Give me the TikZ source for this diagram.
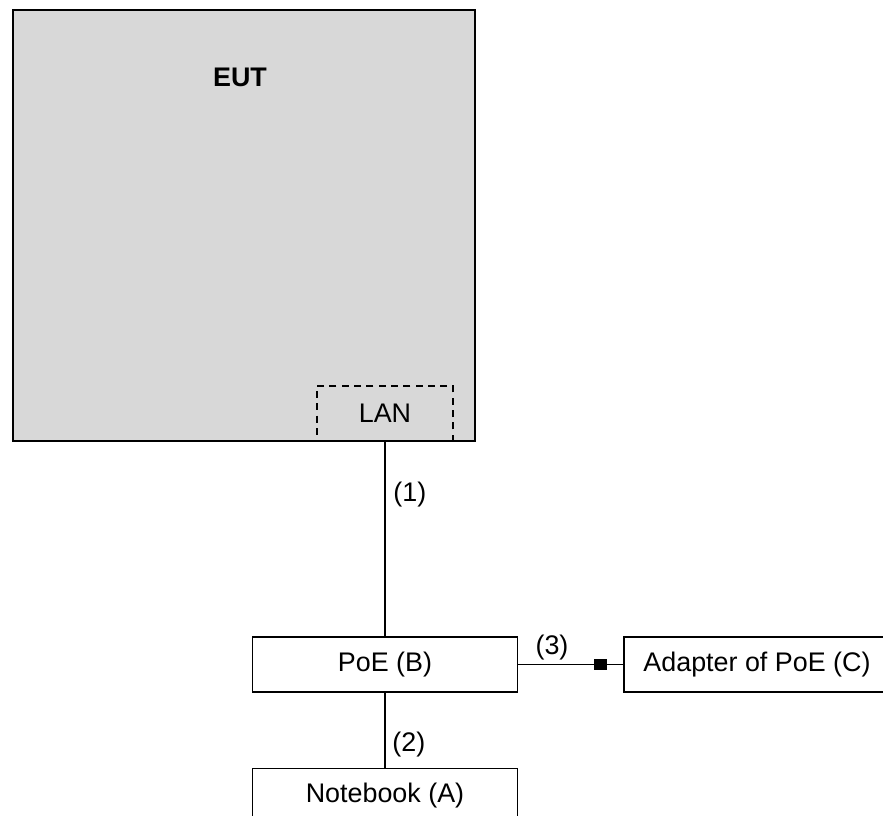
\documentclass[tikz,border=0pt]{standalone}
\usepackage{fontspec}
\setmainfont{Liberation Sans}
\begin{document}
\begin{tikzpicture}[
    unitbox/.style={shape=rectangle,draw,line width=1.1pt,minimum width=5.3cm,minimum height=1.1cm,font=\fontsize{15.3}{18}\selectfont},
    eutbox/.style={shape=rectangle,draw,line width=1.4pt,fill=eut_bg,minimum width=9.24cm,minimum height=8.62cm},
    portbox/.style={shape=rectangle,draw,dash pattern=on 4pt off 3pt,line width=1.1pt,minimum width=2.72cm,minimum height=1.1cm,font=\fontsize{15.3}{18}\selectfont},
    cablelabel/.style={anchor=west,inner sep=0pt,font=\fontsize{15.3}{18}\selectfont},
    cable/.style={line width=1.1pt}
  ]
    \definecolor{eut_bg}{RGB}{216,216,216}
    \useasboundingbox (0,0) rectangle (17.66,16.32);
    \clip (0,0) rectangle (17.66,16.32);
    \node[eutbox] (eut) at (4.88,11.81) {};
    \node[font=\fontsize{15.3}{18}\selectfont\bfseries] (euttitle) at (4.8,14.78) {EUT};
    \node[portbox] (lan) at (7.7,8.05) {LAN};
    \node[unitbox] (poe) at (7.7,3.03) {PoE (B)};
    \node[unitbox] (notebook) at (7.7,0.4) {Notebook (A)};
    \node[unitbox,minimum width=5.32cm] (adapter) at (15.14,3.03) {Adapter of PoE (C)};
    \node[shape=rectangle,fill=black,inner sep=0pt,minimum width=0.26cm,minimum height=0.22cm] (plug) at (12.0,3.03) {};
    \draw[cable] (lan.south) to (poe.north);
    \draw[cable] (poe.south) to (notebook.north);
    \draw[cable] (poe.east) to (plug.center) to (adapter.west);
    \node[cablelabel] (cable1) at (7.86,6.42) {(1)};
    \node[cablelabel] (cable2) at (7.84,1.42) {(2)};
    \node[cablelabel,anchor=center] (cable3) at (11.04,3.36) {(3)};
\end{tikzpicture}
\end{document}
